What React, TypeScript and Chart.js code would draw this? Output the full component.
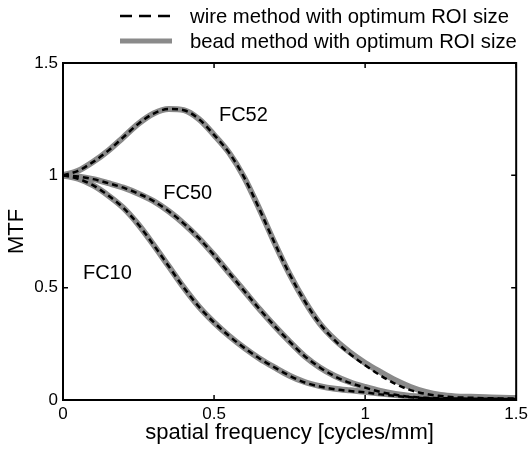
import React, { useEffect, useRef } from "react";
import { Chart, registerables } from "chart.js";

Chart.register(...registerables);

const freq = [0, 0.05, 0.1, 0.15, 0.2, 0.25, 0.3, 0.35, 0.4, 0.45, 0.5, 0.55, 0.6, 0.65, 0.7, 0.75, 0.8, 0.85, 0.9, 0.95, 1.0, 1.05, 1.1, 1.15, 1.2, 1.25, 1.3, 1.35, 1.4, 1.45, 1.5];

const fc52Wire = [1.0, 1.02, 1.06, 1.11, 1.17, 1.23, 1.275, 1.295, 1.29, 1.25, 1.18, 1.1, 0.99, 0.85, 0.7, 0.56, 0.44, 0.34, 0.265, 0.205, 0.155, 0.11, 0.072, 0.044, 0.027, 0.018, 0.012, 0.01, 0.008, 0.007, 0.006];
const fc52Bead = [1.0, 1.02, 1.06, 1.11, 1.17, 1.23, 1.275, 1.295, 1.29, 1.25, 1.18, 1.1, 0.99, 0.85, 0.7, 0.56, 0.44, 0.34, 0.268, 0.212, 0.165, 0.125, 0.088, 0.058, 0.036, 0.022, 0.016, 0.014, 0.012, 0.01, 0.009];
const fc50Wire = [1.0, 0.995, 0.983, 0.965, 0.945, 0.918, 0.885, 0.84, 0.785, 0.72, 0.645, 0.565, 0.485, 0.405, 0.33, 0.26, 0.195, 0.145, 0.105, 0.076, 0.055, 0.036, 0.023, 0.014, 0.01, 0.008, 0.007, 0.006, 0.006, 0.005, 0.005];
const fc50Bead = [1.0, 0.995, 0.983, 0.965, 0.945, 0.918, 0.885, 0.84, 0.785, 0.72, 0.645, 0.565, 0.485, 0.405, 0.33, 0.26, 0.195, 0.145, 0.107, 0.079, 0.058, 0.04, 0.027, 0.018, 0.013, 0.01, 0.009, 0.008, 0.008, 0.007, 0.007];
const fc10Wire = [1.0, 0.985, 0.955, 0.91, 0.855, 0.78, 0.69, 0.595, 0.5, 0.415, 0.345, 0.285, 0.232, 0.185, 0.145, 0.108, 0.078, 0.06, 0.048, 0.04, 0.034, 0.025, 0.018, 0.012, 0.008, 0.006, 0.005, 0.005, 0.004, 0.004, 0.004];
const fc10Bead = [1.0, 0.985, 0.955, 0.91, 0.855, 0.78, 0.69, 0.595, 0.5, 0.415, 0.345, 0.285, 0.232, 0.185, 0.145, 0.108, 0.08, 0.062, 0.05, 0.043, 0.037, 0.029, 0.022, 0.016, 0.011, 0.009, 0.008, 0.007, 0.007, 0.006, 0.006];

const xTicks = [0, 0.5, 1, 1.5];
const yTicks = [0, 0.5, 1, 1.5];
const legendLabels = ["wire method with optimum ROI size", "bead method with optimum ROI size"];
const curveLabels = ["FC52", "FC50", "FC10"];
const curveLabelX = [0.597, 0.413, 0.147];
const curveLabelY = [1.265, 0.918, 0.562];

const FONT = "'Liberation Sans', Arial, sans-serif";
const GRAY = "#8a8a8a";

const toPts = (ys: number[]) => ys.map((y, i) => ({ x: freq[i], y }));

export default function App() {
  const ref = useRef<HTMLCanvasElement | null>(null);

  useEffect(() => {
    if (!ref.current) return;

    const overlay = {
      id: "overlay",
      afterDraw(chart: any) {
        const ctx = chart.ctx;
        const { left, right, top, bottom } = chart.chartArea;
        const xs = chart.scales.x;
        const ys = chart.scales.y;
        ctx.save();
        ctx.strokeStyle = "#000";
        ctx.lineWidth = 2;
        ctx.setLineDash([]);
        ctx.strokeRect(left, top, right - left, bottom - top);
        ctx.lineWidth = 1.5;
        xTicks.forEach((t) => {
          const px = xs.getPixelForValue(t);
          ctx.beginPath();
          ctx.moveTo(px, bottom);
          ctx.lineTo(px, bottom - 5);
          ctx.moveTo(px, top);
          ctx.lineTo(px, top + 5);
          ctx.stroke();
        });
        yTicks.forEach((t) => {
          const py = ys.getPixelForValue(t);
          ctx.beginPath();
          ctx.moveTo(left, py);
          ctx.lineTo(left + 5, py);
          ctx.moveTo(right, py);
          ctx.lineTo(right - 5, py);
          ctx.stroke();
        });
        ctx.fillStyle = "#000";
        ctx.font = `20px ${FONT}`;
        ctx.textAlign = "center";
        ctx.textBaseline = "middle";
        curveLabels.forEach((lab, i) => {
          ctx.fillText(lab, xs.getPixelForValue(curveLabelX[i]), ys.getPixelForValue(curveLabelY[i]));
        });
        ctx.textAlign = "left";
        ctx.font = `20.3px ${FONT}`;
        const rows = [16, 41];
        ctx.strokeStyle = "#000";
        ctx.lineWidth = 2.5;
        ctx.setLineDash([12, 7]);
        ctx.beginPath();
        ctx.moveTo(120, rows[0]);
        ctx.lineTo(173, rows[0]);
        ctx.stroke();
        ctx.setLineDash([]);
        ctx.strokeStyle = GRAY;
        ctx.lineWidth = 5;
        ctx.beginPath();
        ctx.moveTo(120, rows[1]);
        ctx.lineTo(172, rows[1]);
        ctx.stroke();
        ctx.fillStyle = "#000";
        legendLabels.forEach((lab, i) => ctx.fillText(lab, 190, rows[i] + 1));
        ctx.restore();
      },
    };

    const beadStyle = { borderColor: GRAY, borderWidth: 6, pointRadius: 0, cubicInterpolationMode: "monotone", order: 2, fill: false };
    const wireStyle = { borderColor: "#000", borderWidth: 2.5, borderDash: [6, 4], pointRadius: 0, cubicInterpolationMode: "monotone", order: 1, fill: false };

    const chart = new Chart(ref.current, {
      type: "line",
      data: {
        datasets: [
          { label: "FC52 bead", data: toPts(fc52Bead), ...beadStyle },
          { label: "FC50 bead", data: toPts(fc50Bead), ...beadStyle },
          { label: "FC10 bead", data: toPts(fc10Bead), ...beadStyle },
          { label: "FC52 wire", data: toPts(fc52Wire), ...wireStyle },
          { label: "FC50 wire", data: toPts(fc50Wire), ...wireStyle },
          { label: "FC10 wire", data: toPts(fc10Wire), ...wireStyle },
        ] as any,
      },
      options: {
        animation: false,
        responsive: false,
        devicePixelRatio: 1,
        layout: { padding: { top: 63, right: 12, left: 0, bottom: 0 } },
        plugins: { legend: { display: false }, tooltip: { enabled: false } },
        scales: {
          x: {
            type: "linear",
            min: 0,
            max: 1.5,
            afterBuildTicks: (s: any) => { s.ticks = xTicks.map((v) => ({ value: v })); },
            afterFit: (s: any) => { s.height = 53; },
            grid: { display: false, drawTicks: false },
            border: { display: false },
            ticks: {
              color: "#000",
              font: { family: FONT, size: 17 },
              padding: 4,
              maxRotation: 0,
              callback: (v: any) => String(v),
            },
            title: {
              display: true,
              text: "spatial frequency [cycles/mm]",
              color: "#000",
              font: { family: FONT, size: 22 },
              padding: { top: 0, bottom: 7 },
            },
          },
          y: {
            type: "linear",
            min: 0,
            max: 1.5,
            afterBuildTicks: (s: any) => { s.ticks = yTicks.map((v) => ({ value: v })); },
            afterFit: (s: any) => { s.width = 63; },
            grid: { display: false, drawTicks: false },
            border: { display: false },
            ticks: {
              color: "#000",
              font: { family: FONT, size: 17 },
              padding: 5,
              callback: (v: any) => String(v),
            },
            title: {
              display: true,
              text: "MTF",
              color: "#000",
              font: { family: FONT, size: 22 },
              padding: { top: 4, bottom: 0 },
            },
          },
        },
      },
      plugins: [overlay],
    } as any);

    return () => chart.destroy();
  }, []);

  return (
    <div style={{ position: "fixed", left: 0, top: 0, width: 532, height: 453, background: "#fff" }}>
      <canvas ref={ref} width={532} height={453} style={{ width: 532, height: 453, display: "block" }} />
    </div>
  );
}
